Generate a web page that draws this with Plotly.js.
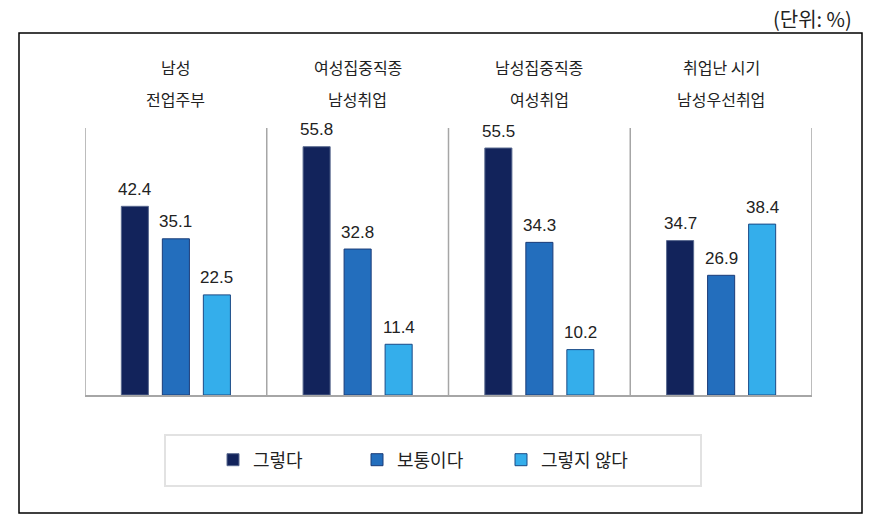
<!DOCTYPE html>
<html>
<head>
<meta charset="utf-8">
<script src="https://cdn.plot.ly/plotly-3.0.1.min.js"></script>
<style>html,body{margin:0;padding:0;background:#fff;}#chart{width:893px;height:526px;}</style>
</head>
<body>
<div id="chart"></div>
<script>
// ---- data ----
const categoryLine1 = ['남성', '여성집중직종', '남성집중직종', '취업난 시기'];
const categoryLine2 = ['전업주부', '남성취업', '여성취업', '남성우선취업'];
const seriesNames = ['그렇다', '보통이다', '그렇지 않다'];
const agreeValues = [42.4, 55.8, 55.5, 34.7];
const neutralValues = [35.1, 32.8, 34.3, 26.9];
const disagreeValues = [22.5, 11.4, 10.2, 38.4];
const unitLabel = '(단위: %)';

// ---- styling ----
const W = 893, H = 526;
const M = {l: 85, r: 81, t: 128, b: 131};
const PW = W - M.l - M.r, PH = H - M.t - M.b;
const px2x = p => (p - M.l) / PW;
const py2y = p => (H - M.b - p) / PH;
const colors = ['#12235b', '#236ebd', '#34aeeb'];
const lineColors = ['#5a6a90', '#1b3c78', '#1b4a86'];
const numFont = {family: 'Liberation Sans, Arial, sans-serif', size: 17, color: '#222'};
const korFont = {family: 'Noto Sans CJK KR, sans-serif', size: 16, color: '#222'};
const gridGray = '#a6a6a6';
const barOffsets = [-41, 0, 41];

const categories = categoryLine1.map((a, i) => a + ' ' + categoryLine2[i]);
const seriesValues = [agreeValues, neutralValues, disagreeValues];

const traces = seriesValues.map((vals, s) => ({
  type: 'bar',
  name: seriesNames[s],
  x: categories,
  y: vals,
  marker: {color: colors[s], line: {color: lineColors[s], width: 1}},
  hoverinfo: 'x+y+name'
}));

const annotations = [];
seriesValues.forEach((vals, s) => {
  vals.forEach((v, i) => {
    annotations.push({
      x: categories[i], y: v, xref: 'x', yref: 'y',
      text: v.toFixed(1), showarrow: false,
      xshift: barOffsets[s], yshift: 17,
      font: numFont
    });
  });
});
categories.forEach((c, i) => {
  annotations.push({x: c, xref: 'x', yref: 'paper', y: py2y(67), yanchor: 'middle',
    text: categoryLine1[i], showarrow: false, font: korFont});
  annotations.push({x: c, xref: 'x', yref: 'paper', y: py2y(99), yanchor: 'middle',
    text: categoryLine2[i], showarrow: false, font: korFont});
});
annotations.push({xref: 'paper', yref: 'paper', x: px2x(854), y: py2y(19),
  xanchor: 'right', yanchor: 'middle', text: unitLabel, showarrow: false,
  font: {family: 'Noto Sans CJK KR, sans-serif', size: 20, color: '#222'}});

const shapes = [];
// panel separators
for (let k = 0; k <= categories.length; k++) {
  shapes.push({type: 'line', xref: 'x', yref: 'y', x0: k - 0.5, x1: k - 0.5, y0: 0, y1: 60,
    line: {color: gridGray, width: 1.5}, layer: 'below'});
}
// outer frame
shapes.push({type: 'rect', xref: 'paper', yref: 'paper',
  x0: px2x(19), x1: px2x(862), y0: py2y(33), y1: py2y(513),
  line: {color: '#000', width: 1.5}, fillcolor: 'rgba(0,0,0,0)'});
// legend frame
shapes.push({type: 'rect', xref: 'paper', yref: 'paper',
  x0: px2x(165), x1: px2x(701), y0: py2y(435), y1: py2y(486),
  line: {color: '#e2e2e2', width: 2}, fillcolor: 'rgba(0,0,0,0)'});

const layout = {
  width: W, height: H,
  margin: M,
  paper_bgcolor: '#fff', plot_bgcolor: '#fff',
  barmode: 'group', bargap: 0.323, bargroupgap: 0.34,
  showlegend: true,
  legend: {orientation: 'h', x: px2x(213), xanchor: 'left', y: py2y(460), yanchor: 'middle',
    font: {family: 'Noto Sans CJK KR, sans-serif', size: 18, color: '#222'},
    bgcolor: 'rgba(0,0,0,0)', borderwidth: 0, entrywidth: 99, entrywidthmode: 'pixels',
    traceorder: 'normal'},
  xaxis: {type: 'category', range: [-0.5, 3.5], showticklabels: false, ticks: '',
    showgrid: false, zeroline: false, showline: true, linecolor: gridGray, linewidth: 2},
  yaxis: {range: [0, 60], showticklabels: false, ticks: '', showgrid: false,
    zeroline: false, showline: false},
  annotations: annotations,
  shapes: shapes
};

Plotly.newPlot('chart', traces, layout, {displayModeBar: false, staticPlot: true});
</script>
</body>
</html>
